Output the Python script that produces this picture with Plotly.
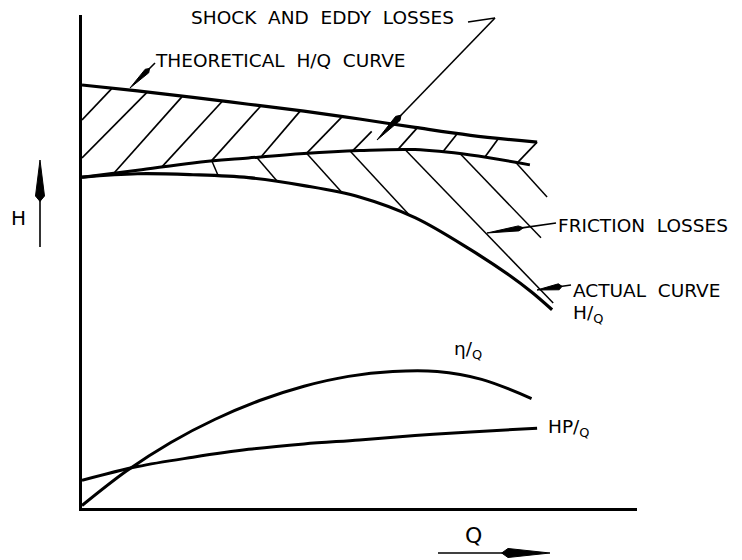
import math
import plotly.graph_objects as go

# ---------------- data (Q and H in arbitrary chart units, 0-100) ----------------
Q_theoretical = [0, 10, 20, 30, 40, 50, 60, 70, 82]
H_theoretical = [85.8, 84.6, 83.3, 81.9, 80.5, 78.9, 77.2, 75.6, 74.2]

Q_hydraulic = [0, 10, 20, 30, 40, 50, 60, 70, 80.7]
H_hydraulic = [67.1, 68.5, 70.0, 71.0, 71.9, 72.5, 72.7, 71.6, 69.6]

Q_actual = [0, 10, 20, 30, 40, 50, 60, 70, 77, 81, 84.7]
H_actual = [67.1, 67.8, 67.6, 67.0, 65.4, 63.1, 58.9, 52.4, 47.2, 43.8, 40.2]

Q_eta = [0, 8, 16, 24, 32, 40, 48, 56, 64, 72, 81]
eta = [0.5, 7.5, 13.3, 18.0, 21.8, 24.7, 26.7, 27.7, 27.7, 26.1, 22.2]

Q_hp = [0, 10, 20, 30, 40, 50, 60, 70, 82]
hp = [5.6, 8.4, 10.3, 11.9, 13.0, 13.8, 14.7, 15.4, 16.2]

# hatch segments: shock & eddy losses (between theoretical and hydraulic curves)
shock_q0 = [0, 0, 5.9, 14.4, 23.4, 32.4, 40.5, 48.8, 56.9, 65.0, 72.6, 78.6]
shock_h0 = [78.7, 71.0, 68.1, 69.2, 70.5, 71.4, 72.0, 72.5, 72.7, 72.2, 71.2, 70.2]
shock_q1 = [5.4, 11.7, 18.0, 25.2, 32.1, 39.3, 46.8, 52.2, 60.4, 67.6, 75.0, 82.0]
shock_h1 = [85.1, 84.3, 83.4, 82.4, 81.4, 80.5, 79.3, 76.4, 77.1, 75.9, 74.9, 74.2]

# hatch segments: friction losses (between hydraulic and actual curves)
fric_q0 = [23.4, 31.5, 40.5, 48.3, 58.2, 68.1, 78.0]
fric_h0 = [70.4, 71.1, 71.9, 72.4, 72.7, 71.9, 70.3]
fric_q1 = [24.5, 35.1, 47.0, 59.1, 84.9, 82.7, 83.8]
fric_h1 = [67.5, 66.4, 63.8, 59.3, 41.6, 54.8, 63.1]

# ---------------- figure ----------------
OFF = 8                      # default page margin around the plot div
FIG_W, FIG_H = 734, 552
ML, MR, MT, MB = 74, 105, 7, 52
PW, PH = FIG_W - ML - MR, FIG_H - MT - MB

fig = go.Figure()


def curve(q, h, width):
    fig.add_trace(go.Scatter(x=q, y=h, mode="lines",
                             line=dict(color="black", width=width, shape="spline", smoothing=1.0),
                             hoverinfo="skip", showlegend=False))


def hatch(q0, h0, q1, h1, width):
    xs, ys = [], []
    for a, b, c, d in zip(q0, h0, q1, h1):
        xs += [a, c, None]
        ys += [b, d, None]
    fig.add_trace(go.Scatter(x=xs, y=ys, mode="lines",
                             line=dict(color="black", width=width),
                             hoverinfo="skip", showlegend=False))


hatch(shock_q0, shock_h0, shock_q1, shock_h1, 1.7)
hatch(fric_q0, fric_h0, fric_q1, fric_h1, 1.5)
curve(Q_theoretical, H_theoretical, 3.2)
curve(Q_hydraulic, H_hydraulic, 3.0)
curve(Q_actual, H_actual, 3.2)
curve(Q_eta, eta, 3.0)
curve(Q_hp, hp, 3.0)

# ---------------- annotation helpers (screen pixel -> paper) ----------------
def pp(px, py):
    return (px - OFF - ML) / PW, (OFF + MT + PH - py) / PH


shapes = []


def arrow(tail, tip, head_len, head_w, lw=1.6):
    tx, ty = tip
    dx, dy = tail[0] - tx, tail[1] - ty
    n = math.hypot(dx, dy)
    ux, uy = dx / n, dy / n
    nx, ny = -uy, ux
    bx, by = tx + ux * head_len, ty + uy * head_len
    x0, y0 = pp(*tail)
    x1, y1 = pp(bx, by)
    shapes.append(dict(type="line", xref="paper", yref="paper", x0=x0, y0=y0, x1=x1, y1=y1,
                       line=dict(color="black", width=lw)))
    pts = [(tx, ty), (bx + nx * head_w / 2, by + ny * head_w / 2),
           (tx + ux * head_len * 1.15, ty + uy * head_len * 1.15),
           (bx - nx * head_w / 2, by - ny * head_w / 2)]
    path = "M " + " L ".join("%f,%f" % pp(*p) for p in pts) + " Z"
    shapes.append(dict(type="path", xref="paper", yref="paper", path=path,
                       fillcolor="black", line=dict(color="black", width=1)))


def seg(a, b, lw=1.6):
    x0, y0 = pp(*a)
    x1, y1 = pp(*b)
    shapes.append(dict(type="line", xref="paper", yref="paper", x0=x0, y0=y0, x1=x1, y1=y1,
                       line=dict(color="black", width=lw)))


# leader arrows
arrow((40, 247), (40, 160), 36, 9)          # H arrow
arrow((438, 553), (550, 553), 42, 9)        # Q arrow
arrow((155, 63), (130, 88), 24, 5)          # theoretical
seg((468, 22), (495, 18))                   # shock leader
arrow((495, 18), (377, 140), 30, 6)         # shock arrow
arrow((556, 223), (487, 233), 32, 5)        # friction
arrow((571, 285), (537, 290), 22, 6)        # actual

annotations = []
FONT = "DejaVu Sans"
SP = "&nbsp;&nbsp;"


def label(text, px, py, size=18.5, xanchor="left"):
    x, y = pp(px, py)
    annotations.append(dict(text=text, x=x, y=y, xref="paper", yref="paper",
                            xanchor=xanchor, yanchor="middle", showarrow=False,
                            font=dict(family=FONT, size=size, color="black")))


label(SP.join(["SHOCK", "AND", "EDDY", "LOSSES"]), 189, 18)
label(SP.join(["THEORETICAL", "H/Q", "CURVE"]), 153, 61)
label(SP.join(["FRICTION", "LOSSES"]), 556, 225)
label(SP.join(["ACTUAL", "CURVE"]), 571, 290)
label("H/<sub>Q</sub>", 571, 314)
label("η/<sub>Q</sub>", 452, 350)
label("HP/<sub>Q</sub>", 546, 428)
label("H", 9, 218, size=20, xanchor="left")
label("Q", 473, 535, size=22, xanchor="center")

axis_common = dict(showline=True, linecolor="black", linewidth=2.5, showgrid=False,
                   zeroline=False, showticklabels=False, ticks="", fixedrange=True)

fig.update_layout(
    width=FIG_W, height=FIG_H, autosize=False,
    margin=dict(l=ML, r=MR, t=MT, b=MB, pad=0),
    paper_bgcolor="white", plot_bgcolor="white",
    xaxis=dict(range=[0, 100], **axis_common),
    yaxis=dict(range=[0, 100], **axis_common),
    shapes=shapes, annotations=annotations,
    showlegend=False,
)

fig.write_html("out.html")
